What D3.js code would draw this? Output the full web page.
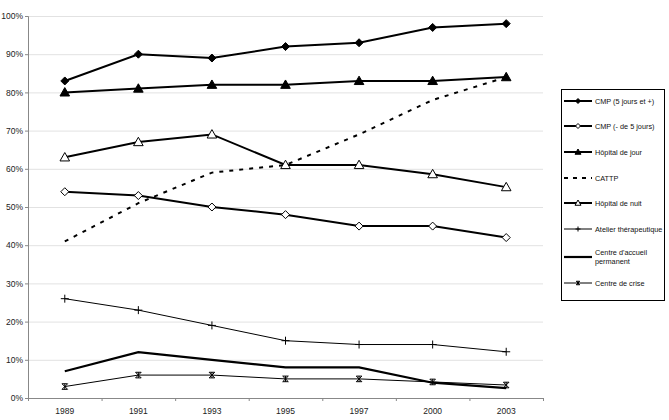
<!DOCTYPE html>
<html>
<head>
<meta charset="utf-8">
<script src="https://cdn.jsdelivr.net/npm/d3@7"></script>
<style>
  body { margin: 0; background: #fff; }
  text { font-family: "Liberation Sans", Arial, sans-serif; }
</style>
</head>
<body>
<svg id="chart"></svg>
<script>
var width = 669,
    height = 420;

// Data
var years = ['1989', '1991', '1993', '1995', '1997', '2000', '2003'];
var cmp5 = [83, 90, 89, 92, 93, 97, 98];
var cmpMoins5 = [54, 53, 50, 48, 45, 45, 42];
var hopJour = [80, 81, 82, 82, 83, 83, 84];
var cattp = [41, 51, 59, 61, 69, 78, 84];
var hopNuit = [63, 67, 69, 61, 61, 58.6, 55.2];
var atelier = [26, 23, 19, 15, 14, 14, 12.1];
var centreAccueil = [7, 12, 10, 8, 8, 4, 2.6];
var centreCrise = [3, 6, 6, 5, 5, 4.2, 3.4];
var yTicks = [0, 10, 20, 30, 40, 50, 60, 70, 80, 90, 100];

var series = [
  { name: 'CMP (5 jours et +)', values: cmp5, marker: 'diamond', fill: '#000', lw: 2 },
  { name: 'CMP (- de 5 jours)', values: cmpMoins5, marker: 'diamond', fill: '#fff', lw: 2 },
  { name: 'Hôpital de jour', values: hopJour, marker: 'triangle', fill: '#000', lw: 2 },
  { name: 'CATTP', values: cattp, marker: null, lw: 2, dash: '4,6' },
  { name: 'Hôpital de nuit', values: hopNuit, marker: 'triangle', fill: '#fff', lw: 2 },
  { name: 'Atelier thérapeutique', values: atelier, marker: 'plus', lw: 1 },
  { name: ["Centre d'accueil", 'permanent'], values: centreAccueil, marker: null, lw: 2.2 },
  { name: 'Centre de crise', values: centreCrise, marker: 'star', lw: 1 }
];

var margin = { top: 16, left: 28, right: 126, bottom: 22 };
var plotW = 543 - margin.left,
    plotH = 398 - margin.top;

var svg = d3.select('#chart')
  .attr('width', width)
  .attr('height', height);

var g = svg.append('g')
  .attr('transform', 'translate(' + margin.left + ',' + margin.top + ')');

var x = d3.scaleBand().domain(years).range([0, plotW]);
var y = d3.scaleLinear().domain([0, 100]).range([plotH, 0]);

// Gridlines
g.append('g').selectAll('line')
  .data(yTicks.slice(1))
  .join('line')
  .attr('x1', 0).attr('x2', plotW)
  .attr('y1', d => y(d) + 0.5).attr('y2', d => y(d) + 0.5)
  .style('stroke', '#e2e2e2');

// Y axis
var yAxis = g.append('g')
  .call(d3.axisLeft(y).tickValues(yTicks).tickFormat(d => d + '%').tickSize(3).tickPadding(2));
yAxis.select('.domain').style('stroke', '#888');
yAxis.selectAll('.tick line').style('stroke', '#888');
yAxis.selectAll('text').style('font-size', '8.5px').style('fill', '#222');

// X axis with ticks between categories
var xAxis = g.append('g')
  .attr('transform', 'translate(0,' + plotH + ')');
xAxis.append('line')
  .attr('x1', 0).attr('x2', plotW)
  .attr('y1', 0.5).attr('y2', 0.5)
  .style('stroke', '#888');
xAxis.selectAll('.tk')
  .data(years.concat(['end']))
  .join('line')
  .attr('class', 'tk')
  .attr('x1', (d, i) => i * x.step() + 0.5)
  .attr('x2', (d, i) => i * x.step() + 0.5)
  .attr('y1', 0).attr('y2', 3)
  .style('stroke', '#888');
xAxis.selectAll('text')
  .data(years)
  .join('text')
  .attr('x', d => x(d) + x.bandwidth() / 2)
  .attr('y', 16)
  .attr('text-anchor', 'middle')
  .style('font-size', '8.5px')
  .style('fill', '#222')
  .text(d => d);

var line = d3.line()
  .x((d, i) => x(years[i]) + x.bandwidth() / 2)
  .y(d => y(d));

function drawMarker(sel, s, size) {
  if (s.marker === 'diamond') {
    sel.append('path')
      .attr('d', 'M0,' + (-size) + 'L' + size + ',0L0,' + size + 'L' + (-size) + ',0Z')
      .style('fill', s.fill).style('stroke', '#000').style('stroke-width', 1);
  } else if (s.marker === 'triangle') {
    var r = size * 1.2;
    sel.append('path')
      .attr('d', 'M0,' + (-r) + 'L' + r + ',' + (r * 0.75) + 'L' + (-r) + ',' + (r * 0.75) + 'Z')
      .style('fill', s.fill).style('stroke', '#000').style('stroke-width', 1);
  } else if (s.marker === 'plus') {
    sel.append('path')
      .attr('d', 'M' + (-size) + ',0H' + size + 'M0,' + (-size) + 'V' + size)
      .style('stroke', '#000').style('stroke-width', 1);
  } else if (s.marker === 'star') {
    var k = size * 0.7;
    sel.append('path')
      .attr('d', 'M' + (-k) + ',' + (-k) + 'L' + k + ',' + k + 'M' + k + ',' + (-k) + 'L' + (-k) + ',' + k +
        'M' + (-k) + ',' + (-k) + 'H' + k + 'M' + (-k) + ',' + k + 'H' + k + 'M0,' + (-k) + 'V' + k)
      .style('stroke', '#000').style('stroke-width', 1).style('fill', 'none');
  }
}

// Series lines and markers
series.forEach(function(s) {
  g.append('path')
    .datum(s.values)
    .attr('d', line)
    .style('fill', 'none')
    .style('stroke', '#000')
    .style('stroke-width', s.lw)
    .style('stroke-dasharray', s.dash || null);
  if (s.marker) {
    g.append('g').selectAll('g')
      .data(s.values)
      .join('g')
      .attr('transform', (d, i) => 'translate(' + (x(years[i]) + x.bandwidth() / 2) + ',' + y(d) + ')')
      .each(function() { drawMarker(d3.select(this), s, 4); });
  }
});

// Legend
var legend = svg.append('g').attr('transform', 'translate(561,89)');
legend.append('rect')
  .attr('x', 0.5).attr('y', 0.5)
  .attr('width', 103).attr('height', 211)
  .style('fill', '#fff').style('stroke', '#000').style('stroke-width', 1);

var itemY = [12, 37, 63, 89, 114, 140, 168, 194];
series.forEach(function(s, i) {
  var item = legend.append('g').attr('transform', 'translate(0,' + itemY[i] + ')');
  item.append('line')
    .attr('x1', 3).attr('x2', 31).attr('y1', 0).attr('y2', 0)
    .style('stroke', '#000')
    .style('stroke-width', s.lw)
    .style('stroke-dasharray', s.dash ? '4,5' : null);
  if (s.marker) {
    var m = item.append('g').attr('transform', 'translate(17,0)');
    drawMarker(m, s, 2.5);
  }
  var names = Array.isArray(s.name) ? s.name : [s.name];
  var t = item.append('text')
    .attr('x', 34)
    .attr('y', names.length > 1 ? -2 : 2.5)
    .style('font-size', '7.3px')
    .style('fill', '#111');
  names.forEach(function(n, j) {
    t.append('tspan').attr('x', 34).attr('dy', j === 0 ? 0 : 9).text(n);
  });
});
</script>
</body>
</html>
